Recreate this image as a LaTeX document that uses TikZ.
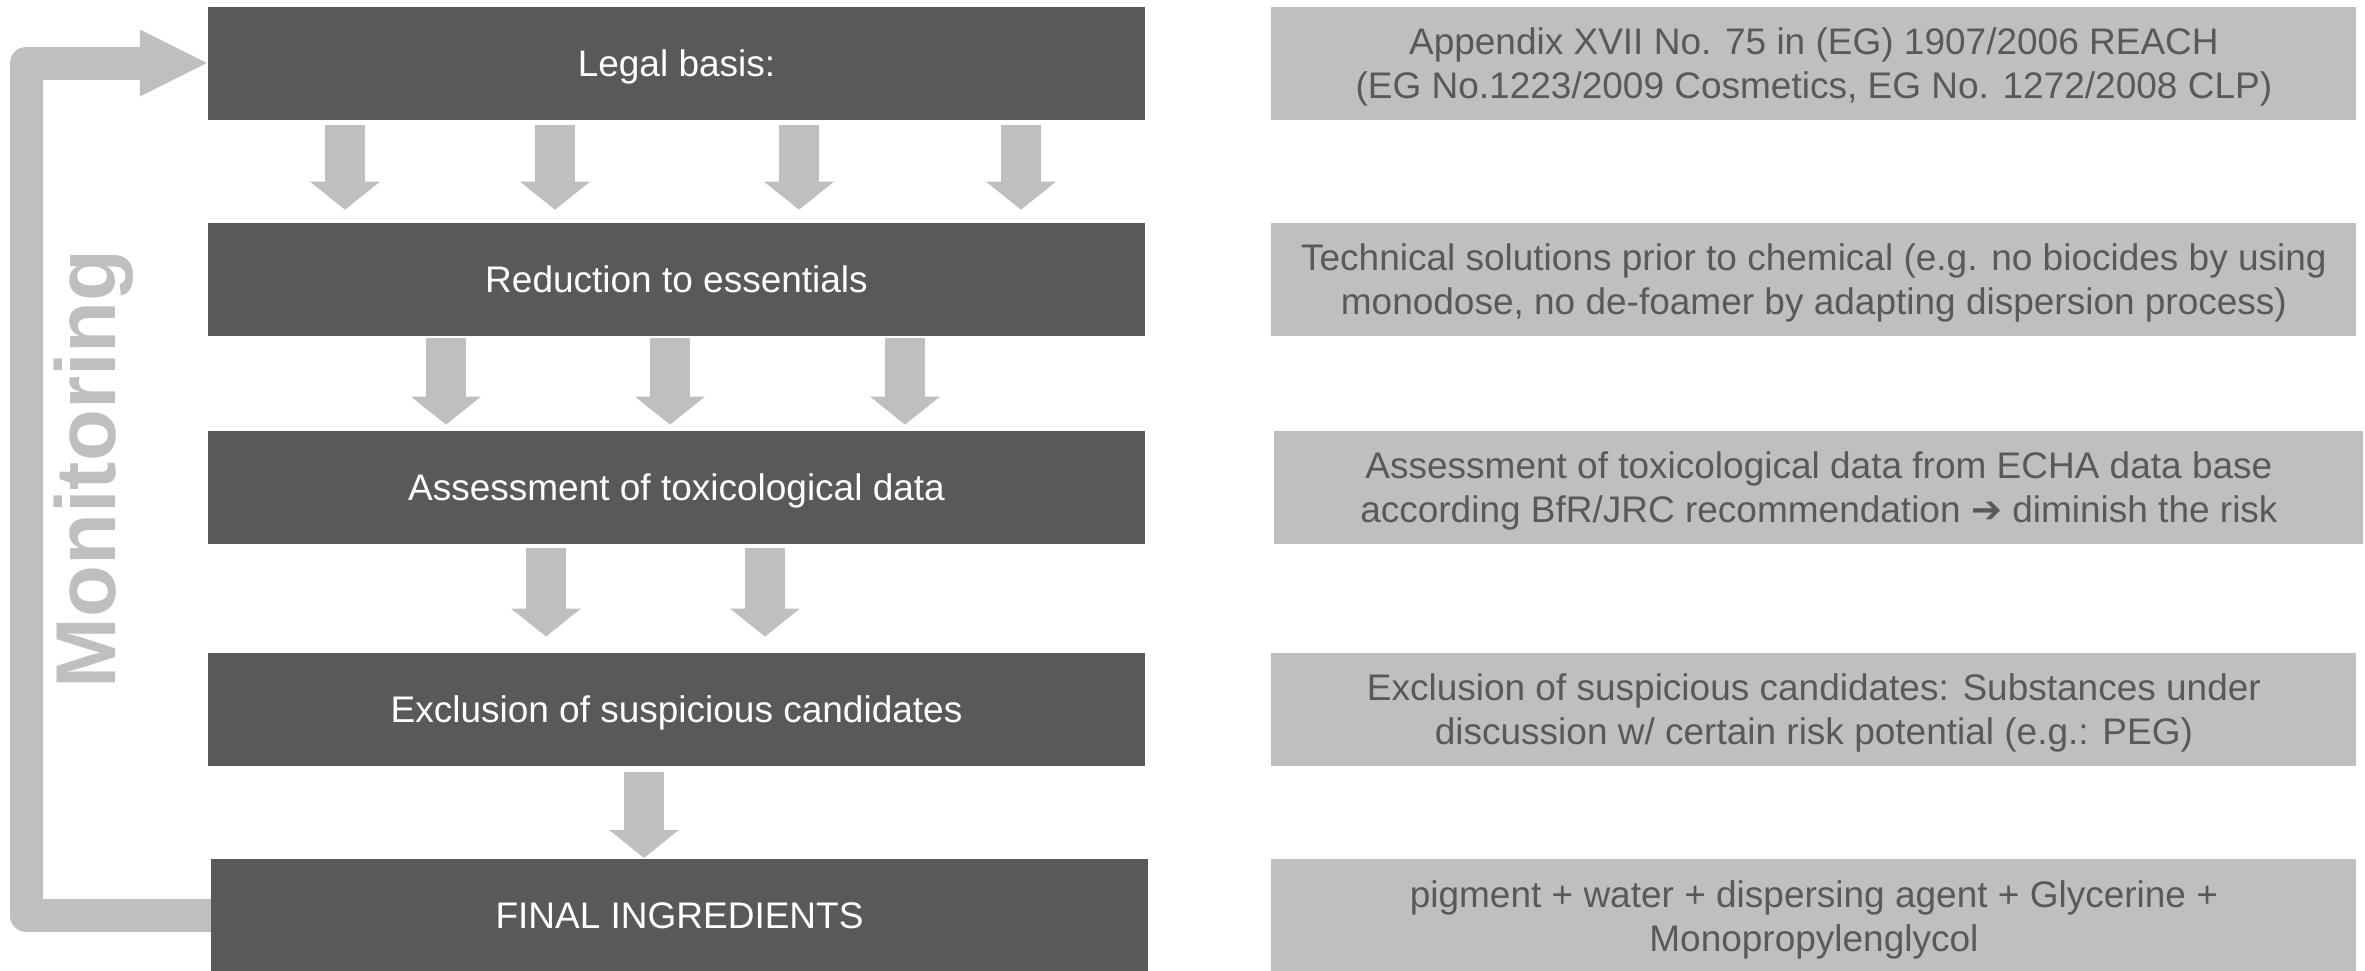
\documentclass[tikz,border=0pt]{standalone}
\usepackage{fontspec}
\setmainfont{Liberation Sans}
\newfontfamily\symfont{DejaVu Sans}
\usepackage{tikz}
\usetikzlibrary{calc,positioning,arrows.meta}
\definecolor{stepgray}{RGB}{88,89,91}
\definecolor{notegray}{RGB}{191,191,191}
\definecolor{notetext}{RGB}{89,89,89}

\begin{document}
\begin{tikzpicture}[x=1pt,y=-1pt,
  every node/.style={font=\fontsize{37}{44}\selectfont},
  stepbox/.style={fill=stepgray,text=white,inner sep=0pt,text depth=-3pt,minimum width=937pt,minimum height=113pt},
  notebox/.style={fill=notegray,text=notetext,align=center,inner sep=0pt,text depth=-3pt,minimum width=1085pt,minimum height=113pt},
  flowarrow/.style={draw=notegray,line width=40pt,-{Triangle[width=70pt,length=28pt,line width=0pt]}},
  loopline/.style={draw=notegray,line width=33pt,line join=round,-{Triangle[width=67pt,length=67pt,line width=0pt]},shorten >=1pt}]
\useasboundingbox (0,0) rectangle (2365,970);
% left column
\node[stepbox] (legal) at (676.5,63) {Legal basis:};
\node[stepbox,below=103pt of legal] (reduce) {Reduction to essentials};
\node[stepbox,below=94.5pt of reduce] (assess) {Assessment of toxicological data};
\node[stepbox,below=108.5pt of assess] (exclude) {Exclusion of suspicious candidates};
\node[stepbox,below=93pt of exclude,xshift=3pt] (final) {FINAL INGREDIENTS};
% right column
\node[notebox,right=126pt of legal] (legalnote) {Appendix XVII No. 75 in (EG) 1907/2006 REACH\\(EG No.1223/2009 Cosmetics, EG No. 1272/2008 CLP)};
\node[notebox,right=126pt of reduce] (reducenote) {Technical solutions prior to chemical (e.g. no biocides by using\\monodose, no de-foamer by adapting dispersion process)};
\node[notebox,right=129pt of assess,minimum width=1089pt] (assessnote) {Assessment of toxicological data from ECHA data base\\according BfR/JRC recommendation {\symfont ➔} diminish the risk};
\node[notebox,right=126pt of exclude] (excludenote) {Exclusion of suspicious candidates: Substances under\\discussion w/ certain risk potential (e.g.: PEG)};
\node[notebox,right=123pt of final] (finalnote) {pigment + water + dispersing agent + Glycerine +\\Monopropylenglycol};
% monitoring loop
\draw[loopline] (final.west) -- ++(-184.5,0) |- (legal.west);
\node[rotate=90,anchor=base,text=notegray,font=\fontsize{85}{85}\selectfont\bfseries] (monitor) at (115,469) {Monitoring};
% block arrows
\foreach \dx in {-331.5,-121.5,122.5,344.5}
  \draw[flowarrow,shorten <=5pt,shorten >=13pt] ([xshift=\dx pt]legal.south) -- ([xshift=\dx pt]reduce.north);
\foreach \dx in {-230.5,-6.5,228.5}
  \draw[flowarrow,shorten <=2pt,shorten >=6pt] ([xshift=\dx pt]reduce.south) -- ([xshift=\dx pt]assess.north);
\foreach \dx in {-130.5,88.5}
  \draw[flowarrow,shorten <=4pt,shorten >=16pt] ([xshift=\dx pt]assess.south) -- ([xshift=\dx pt]exclude.north);
\draw[flowarrow,shorten <=6pt,shorten >=1pt] ([xshift=-32.5pt]exclude.south) coordinate (x4) -- (x4 |- final.north);
\end{tikzpicture}
\end{document}
